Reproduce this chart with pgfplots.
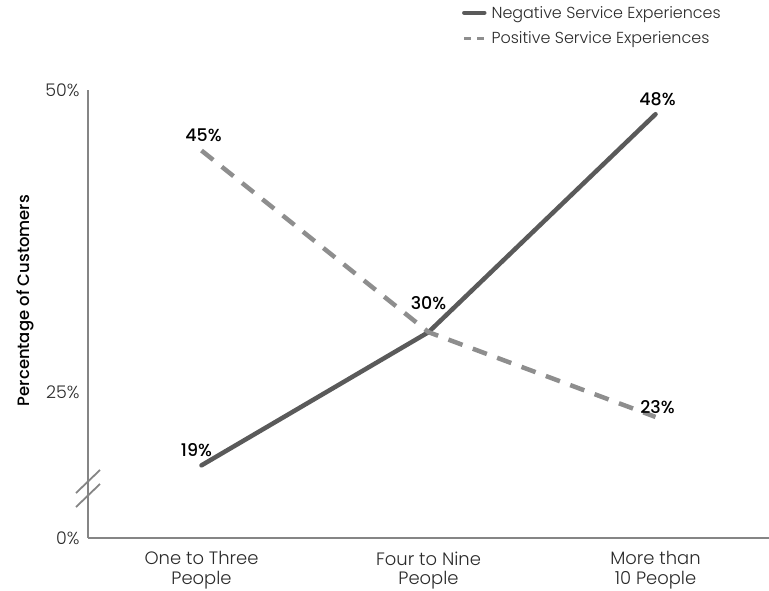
\documentclass[border=0pt]{standalone}
\usepackage{pgfplots}
\pgfplotsset{compat=1.18}
\usepackage{fontspec}
\setmainfont{Poppins}[UprightFont=* Light, BoldFont=* Medium]

\definecolor{neggray}{HTML}{5A5A5A}
\definecolor{posgray}{HTML}{8E8E8E}
\definecolor{axisgray}{HTML}{858585}
\definecolor{txt}{HTML}{2A2A2A}

\pgfplotstableread{
x val
0 19
1 30
2 48
}\negative
\pgfplotstableread{
x val
0 45
1 30
2 23
}\positive

\begin{document}
\begin{tikzpicture}
\begin{axis}[
  name=ax,
  scale only axis,
  width=681bp, height=448bp,
  xmin=-0.5, xmax=2.5,
  ymin=13, ymax=50,
  axis x line=bottom, axis y line=left,
  axis line style={draw=axisgray, line width=1.8bp, -},
  xtick={0,1,2},
  xticklabels={One to Three\\People, Four to Nine\\People, More than\\10 People},
  xticklabel style={align=center, font=\fontsize{18}{19.5}\selectfont, text=txt, yshift=-10bp},
  ytick={13,25,50},
  yticklabels={0\%,25\%,50\%},
  yticklabel style={font=\fontsize{17.5}{20}\selectfont, text=txt, xshift=-5bp},
  major tick length=0pt,
  ylabel={\bfseries Percentage of Customers},
  ylabel style={font=\fontsize{16.5}{20}\selectfont, text=black,
    at={(axis description cs:0,0.53)}, anchor=center, yshift=63bp},
  legend style={at={(axis description cs:0.549,1.19)}, anchor=north west,
    draw=none, fill=none, font=\fontsize{16}{18}\selectfont, text=txt,
    row sep=10bp, inner sep=0pt, nodes={inner xsep=5bp, inner ysep=1bp}},
  legend cell align=left,
  clip=false,
]
\addplot[neggray, line width=4.5bp, line cap=round,
  legend image code/.code={\draw[neggray, line width=4.5bp] (0bp,0bp) -- (20bp,0bp);}]
  table[x=x, y=val] {\negative};
\addlegendentry{Negative Service Experiences}
\addplot[posgray, line width=4.5bp, dash pattern=on 15bp off 11bp,
  legend image code/.code={\draw[posgray, line width=2.5bp, dash pattern=on 7bp off 6bp] (0bp,0bp) -- (20bp,0bp);}]
  table[x=x, y=val] {\positive};
\addlegendentry{Positive Service Experiences}

% value labels
\begin{scope}[every node/.style={font=\bfseries\fontsize{17.5}{20}\selectfont, text=black}]
\node[above, yshift=5bp, xshift=-5bp] at (axis cs:0,19) {19\%};
\node[above, yshift=19bp] at (axis cs:1,30) {30\%};
\node[above, yshift=5bp, xshift=2bp] at (axis cs:2,48) {48\%};
\node[above, yshift=5bp, xshift=2bp] at (axis cs:0,45) {45\%};
\node[above, yshift=0bp, xshift=2bp] at (axis cs:2,23) {23\%};
\end{scope}

% axis break marks
\draw[axisgray, line width=1.8bp]
  ([xshift=-12bp, yshift=45bp]rel axis cs:0,0) -- ([xshift=12bp, yshift=68bp]rel axis cs:0,0);
\draw[axisgray, line width=1.8bp]
  ([xshift=-12bp, yshift=31bp]rel axis cs:0,0) -- ([xshift=12bp, yshift=54bp]rel axis cs:0,0);
\end{axis}
\pgfresetboundingbox
\path ([xshift=-88bp, yshift=-53bp]ax.south west) rectangle ([yshift=90bp]ax.north east);
\end{tikzpicture}
\end{document}
